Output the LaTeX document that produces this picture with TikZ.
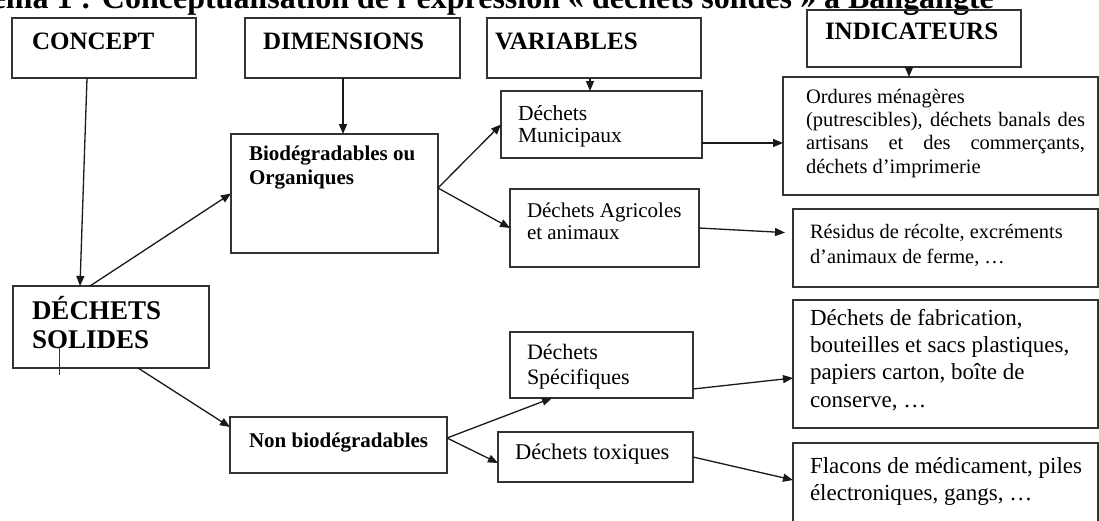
\documentclass[tikz,border=0pt]{standalone}
\usepackage{fontspec}
\setmainfont{Liberation Serif}
\usetikzlibrary{arrows.meta}
\tikzset{
  box/.style={draw=black!80, line width=1.6pt, inner sep=0pt, outer sep=0pt},
  conn/.style={draw=black!90, line width=1.3pt, -{Triangle[length=10pt,width=8pt]}},
  txt/.style={inner sep=0pt, outer sep=0pt, anchor=base west, align=left},
}
\newcommand\fs[2]{\fontsize{#1}{#2}\selectfont}
\newcommand\mkbox[5]{\node[box, minimum width={(#4-#2)*1pt}, minimum height={(#5-#3)*1pt}] (#1) at ({(#2+#4)/2},{(#3+#5)/2}) {};}
\begin{document}
\begin{tikzpicture}[x=1pt,y=-1pt]
\useasboundingbox (0,0) rectangle (1099,520);
\clip (0,0) rectangle (1099,520);
\node[txt, font=\fs{32}{36}\bfseries] (title) at (-58,8) {Schéma 1 : Conceptualisation de l’expression «~déchets solides~» à Bangangté};
% boxes
\mkbox{concept}{12}{18}{196}{78}
\mkbox{dim}{245}{18}{460}{78}
\mkbox{var}{487}{18}{701}{78}
\mkbox{indic}{807}{10}{1021}{67}
\mkbox{dsol}{13}{286}{209}{368}
\mkbox{bio}{231}{134}{438}{253}
\mkbox{nonbio}{230}{417}{447}{473}
\mkbox{mun}{501}{91}{702}{158}
\mkbox{agr}{510}{189}{699}{267}
\mkbox{spec}{510}{332}{693}{398}
\mkbox{tox}{498}{432}{693}{482}
\mkbox{ind1}{783}{77}{1098}{195}
\mkbox{ind2}{793}{209}{1098}{287}
\mkbox{ind3}{793}{300}{1098}{428}
\mkbox{ind4}{793}{443}{1098}{540}
% texts (base = baseline of the last line)
\node[txt, font=\fs{25}{28}\bfseries] (tconcept) at (32,49) {CONCEPT};
\node[txt, font=\fs{25}{28}\bfseries] (tdim) at (263,49) {DIMENSIONS};
\node[txt, font=\fs{25}{28}\bfseries] (tvar) at (495,49) {VARIABLES};
\node[txt, font=\fs{25}{28}\bfseries] (tindic) at (825,39) {INDICATEURS};
\node[txt, font=\fs{27}{29}\bfseries] (tdsol) at (32,348) {DÉCHETS\\SOLIDES};
\node[txt, font=\fs{21}{24}\bfseries] (tbio) at (249,184) {Biodégradables ou\\Organiques};
\node[txt, font=\fs{21}{24}\bfseries] (tnon) at (249,447) {Non biodégradables};
\node[txt, font=\fs{21.5}{22}] (tmun) at (518,142) {Déchets\\Municipaux};
\node[txt, font=\fs{21}{22}] (tagr) at (527,239) {Déchets Agricoles\\et animaux};
\node[txt, font=\fs{22}{25}] (tspec) at (527,384) {Déchets\\Spécifiques};
\node[txt, font=\fs{22.5}{25}] (ttox) at (515,459) {Déchets toxiques};
\node[txt, font=\fs{20.5}{23.4}] (tind1) at (806,173.2) {Ordures ménagères\\\makebox[279pt][s]{(putrescibles), déchets banals des}\\\makebox[279pt][s]{artisans et des commerçants,}\\déchets d’imprimerie};
\node[txt, font=\fs{20.4}{25}] (tind2) at (810,263) {Résidus de récolte, excréments\\d’animaux de ferme, …};
\node[txt, font=\fs{23}{27.3}] (tind3) at (810,407) {Déchets de fabrication,\\bouteilles et sacs plastiques,\\papiers carton, boîte de\\conserve, …};
\node[txt, font=\fs{23}{27}] (tind4) at (810,500) {Flacons de médicament, piles\\électroniques, gangs, …};
% stray tick
\draw[line width=0.8pt, black!80] ([xshift=-52pt,yshift=21pt]dsol.south) -- ([xshift=-52pt,yshift=-7pt]dsol.south);
% connectors
\draw[conn] ([xshift=-17pt]concept.south) -- ([xshift=-31pt]dsol.north);
\draw[conn] ([xshift=-21pt]dsol.north) -- (bio.west);
\draw[conn] ([xshift=27pt]dsol.south) -- ([yshift=18pt]nonbio.west);
\draw[conn] ([xshift=-9.5pt]dim.south) -- ([xshift=8.5pt]bio.north);
\draw[conn] ([xshift=-4pt]var.south) -- ([xshift=-11.5pt]mun.north);
\draw[conn] ([xshift=-5pt]indic.south) -- ([xshift=-31.5pt]ind1.north);
\draw[conn] ([yshift=5.5pt]bio.east) -- (mun.west);
\draw[conn] ([yshift=5.5pt]bio.east) -- (agr.west);
\draw[conn] ([yshift=-18.5pt]mun.east) -- ([yshift=-7pt]ind1.west);
\draw[conn, shorten >=8pt] (agr.east) -- ([yshift=15pt]ind2.west);
\draw[conn] ([yshift=7pt]nonbio.east) -- ([xshift=-49.5pt]spec.south);
\draw[conn] ([yshift=7pt]nonbio.east) -- ([yshift=-6pt]tox.west);
\draw[conn] ([yshift=-24pt]spec.east) -- ([yshift=-14pt]ind3.west);
\draw[conn] (tox.east) -- ([yshift=11.5pt]ind4.west);
\end{tikzpicture}
\end{document}
